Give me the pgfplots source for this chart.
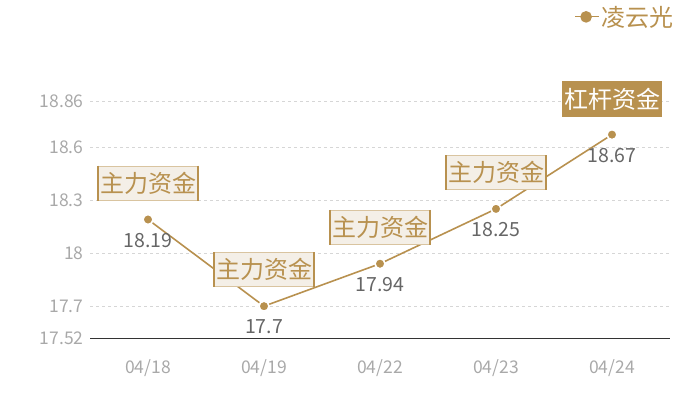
\documentclass[border=0pt]{standalone}
\usepackage{fontspec}
\setmainfont{Noto Sans CJK SC}
\usepackage{pgfplots}
\pgfplotsset{compat=1.18}

\definecolor{gold}{HTML}{B8914F}
\definecolor{boxfill}{HTML}{F4EFE7}
\definecolor{boxline}{HTML}{D9C4A0}
\definecolor{tickgray}{HTML}{A9A9A9}
\definecolor{valgray}{HTML}{666666}
\definecolor{gridgray}{HTML}{D6D6D6}

\tikzset{
  tagbox/.style={draw=boxline, fill=boxfill, line width=0.8pt, text=gold,
    inner xsep=1.5pt, inner ysep=0pt, minimum height=34pt,
    font=\fontsize{24}{24}\selectfont,
    append after command={
      (\tikzlastnode.north west) edge[gold, line width=1.3pt] (\tikzlastnode.south west)
      (\tikzlastnode.north east) edge[gold, line width=1.3pt] (\tikzlastnode.south east)}},
}

\begin{document}
\begin{tikzpicture}
\path[use as bounding box] (0pt,0pt) rectangle (700pt,400pt);
\begin{axis}[
    at={(90pt,62pt)}, anchor=south west,
    scale only axis, width=580pt, height=237pt,
    xmin=-0.5, xmax=4.5,
    ymin=17.52, ymax=18.86,
    xtick={0,1,2,3,4},
    xticklabels={04/18,04/19,04/22,04/23,04/24},
    ytick={17.52,17.7,18,18.3,18.6,18.86},
    yticklabels={17.52,17.7,18,18.3,18.6,18.86},
    separate axis lines,
    axis x line*=bottom, axis y line*=left,
    axis line style={-},
    x axis line style={draw=black!80, line width=0.8pt},
    y axis line style={draw=none},
    major tick length=0pt,
    ymajorgrids=true,
    grid style={dashed, gridgray, line width=0.5pt},
    tick label style={tickgray, font=\fontsize{17.5}{17.5}\selectfont},
    xticklabel style={yshift=-18pt},
    yticklabel style={xshift=-3pt},
    /pgf/number format/assume math mode=true,
    legend style={at={(1.01,1.41)}, anchor=north east, draw=none, fill=none,
      font=\fontsize{24}{24}\selectfont, text=gold, inner sep=0pt},
    legend image code/.code={
      \draw[gold, line width=1pt] (0pt,0pt) -- (24pt,0pt);
      \fill[gold] (11pt,0pt) circle (5pt);},
  ]
  % main series
  \addplot[gold, line width=1.6pt, mark=*, mark size=5pt,
    mark options={fill=gold, draw=white, line width=1.6pt}]
    coordinates {(0,18.19) (1,17.7) (2,17.94) (3,18.25) (4,18.67)};
  \addlegendentry{凌云光}

  % value labels under the points
  \addplot[draw=none, forget plot, nodes near coords,
    point meta=explicit symbolic,
    nodes near coords style={anchor=center, yshift=-21pt, text=valgray,
      font=\fontsize{19.5}{19.5}\selectfont}]
    coordinates {(0,18.19)[18.19] (1,17.7)[17.7] (2,17.94)[17.94]
                 (3,18.25)[18.25] (4,18.67)[18.67]};

  % light tags
  \addplot[draw=none, forget plot, nodes near coords,
    point meta=explicit symbolic,
    nodes near coords style={anchor=south, yshift=19pt, tagbox}]
    coordinates {(0,18.19)[主力资金] (1,17.7)[主力资金]
                 (2,17.94)[主力资金] (3,18.25)[主力资金]};

  % dark tag
  \addplot[draw=none, forget plot, nodes near coords,
    point meta=explicit symbolic,
    nodes near coords style={anchor=south, yshift=18pt, draw=gold, fill=gold,
      text=white, inner xsep=1.5pt, inner ysep=0pt, minimum height=35pt,
      font=\fontsize{24}{24}\selectfont}]
    coordinates {(4,18.67)[杠杆资金]};
\end{axis}
\end{tikzpicture}
\end{document}
